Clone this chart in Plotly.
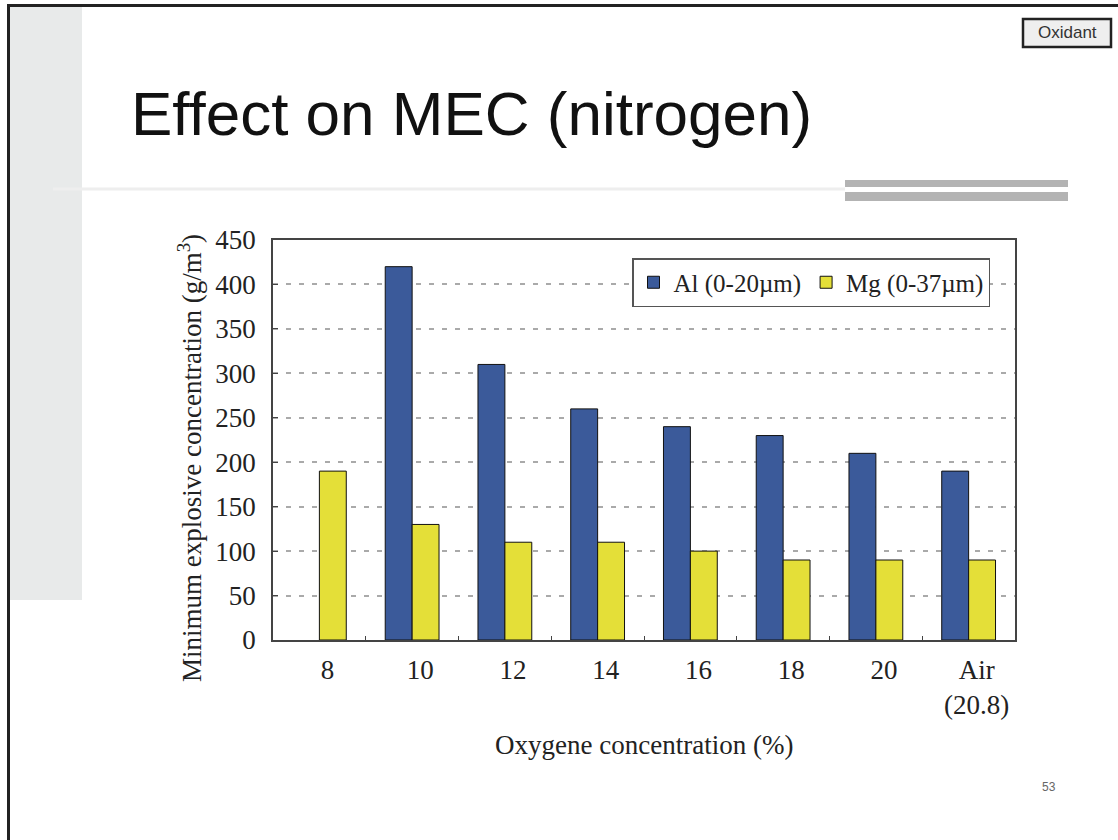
import plotly.graph_objects as go

# Oxygen concentration categories (x axis)
categories = ["8", "10", "12", "14", "16", "18", "20", "Air<br>(20.8)"]

# Minimum explosive concentration, g/m^3
al_values = [None, 420, 310, 260, 240, 230, 210, 190]
mg_values = [190, 130, 110, 110, 100, 90, 90, 90]

series_names = ["Al (0-20\u00b5m)", "Mg (0-37\u00b5m)"]

y_ticks = list(range(0, 451, 50))

W, H = 1118, 840
L, R, T, B = 273, 103, 240, 200
PW, PH = W - L - R, H - T - B


def px(x):
    """pixel x -> paper x"""
    return (x - L) / PW


def py(y):
    """pixel y (from top) -> paper y"""
    return (H - B - y) / PH


SERIF = "Liberation Serif, Times New Roman, serif"
SANS = "Liberation Sans, Arial, sans-serif"
FS = 27

fig = go.Figure()
fig.add_trace(go.Bar(
    x=categories, y=al_values, name=series_names[0],
    marker=dict(color="#3b5a9a", line=dict(color="#111", width=1)),
))
fig.add_trace(go.Bar(
    x=categories, y=mg_values, name=series_names[1],
    marker=dict(color="#e4df38", line=dict(color="#111", width=1)),
))

shapes = [
    # grey side panel
    dict(type="rect", xref="paper", yref="paper",
         x0=px(10), x1=px(82), y0=py(600), y1=py(6),
         fillcolor="#e8eaea", line=dict(width=0), layer="below"),
    # faint rule under the title
    dict(type="line", xref="paper", yref="paper",
         x0=px(53), x1=px(845), y0=py(189), y1=py(189),
         line=dict(color="#eeeeee", width=3), layer="below"),
    # double grey bars at the right
    dict(type="rect", xref="paper", yref="paper",
         x0=px(845), x1=px(1068), y0=py(187), y1=py(180),
         fillcolor="#b3b3b3", line=dict(width=0), layer="below"),
    dict(type="rect", xref="paper", yref="paper",
         x0=px(845), x1=px(1068), y0=py(201), y1=py(192),
         fillcolor="#b3b3b3", line=dict(width=0), layer="below"),
    # "Oxidant" tag box
    dict(type="rect", xref="paper", yref="paper",
         x0=px(1023), x1=px(1111), y0=py(47), y1=py(19),
         fillcolor="#efefef", line=dict(color="#222", width=2.5)),
    # slide frame: left and top edges
    dict(type="line", xref="paper", yref="paper",
         x0=px(8.5), x1=px(8.5), y0=py(4), y1=py(845),
         line=dict(color="#222", width=3)),
    dict(type="line", xref="paper", yref="paper",
         x0=px(7), x1=px(1125), y0=py(5.5), y1=py(5.5),
         line=dict(color="#222", width=3)),
]

annotations = [
    dict(text="Effect on MEC (nitrogen)", xref="paper", yref="paper",
         x=px(129), y=py(113), xanchor="left", yanchor="middle",
         showarrow=False, font=dict(family=SANS, size=62, color="#111")),
    dict(text="Oxidant", xref="paper", yref="paper",
         x=px(1067), y=py(33), xanchor="center", yanchor="middle",
         showarrow=False, font=dict(family=SANS, size=17, color="#333")),
    dict(text="53", xref="paper", yref="paper",
         x=px(1049), y=py(787), xanchor="center", yanchor="middle",
         showarrow=False, font=dict(family=SANS, size=12, color="#666")),
    dict(text="Minimum explosive concentration (g/m<sup>3</sup>)",
         xref="paper", yref="paper", x=px(190), y=py(458),
         xanchor="center", yanchor="middle", textangle=-90,
         showarrow=False, font=dict(family=SERIF, size=FS, color="#222")),
    dict(text="Oxygene concentration (%)", xref="paper", yref="paper",
         x=px(644), y=py(745), xanchor="center", yanchor="middle",
         showarrow=False, font=dict(family=SERIF, size=FS, color="#222")),
]

fig.update_layout(
    width=W, height=H,
    margin=dict(l=L, r=R, t=T, b=B, pad=0),
    paper_bgcolor="white", plot_bgcolor="white",
    barmode="group", bargap=0.42, bargroupgap=0,
    font=dict(family=SERIF, size=FS, color="#222"),
    showlegend=True,
    legend=dict(
        orientation="h", x=px(632), y=py(258), xanchor="left", yanchor="top",
        bgcolor="white", bordercolor="#555", borderwidth=1.5,
        font=dict(family=SERIF, size=25, color="#222"),
        itemwidth=30, tracegroupgap=0,
    ),
    shapes=shapes,
    annotations=annotations,
    xaxis=dict(
        type="category", tickson="boundaries", ticks="inside", ticklen=4,
        tickcolor="#444", showline=True, linecolor="#444", linewidth=1.5,
        mirror=True, showgrid=False, ticklabelshift=8, ticklabelstandoff=5,
        tickfont=dict(family=SERIF, size=FS, color="#222"),
    ),
    yaxis=dict(
        range=[0, 450], tickvals=y_ticks, ticks="inside", ticklen=5,
        tickcolor="#444", showline=True, linecolor="#444", linewidth=1.5,
        mirror=True, showgrid=True, gridcolor="#aaaaaa", gridwidth=1.5,
        griddash="5px,8px", zeroline=False, ticklabelstandoff=10,
        tickfont=dict(family=SERIF, size=FS, color="#222"),
    ),
)

fig.write_html("out.html")
